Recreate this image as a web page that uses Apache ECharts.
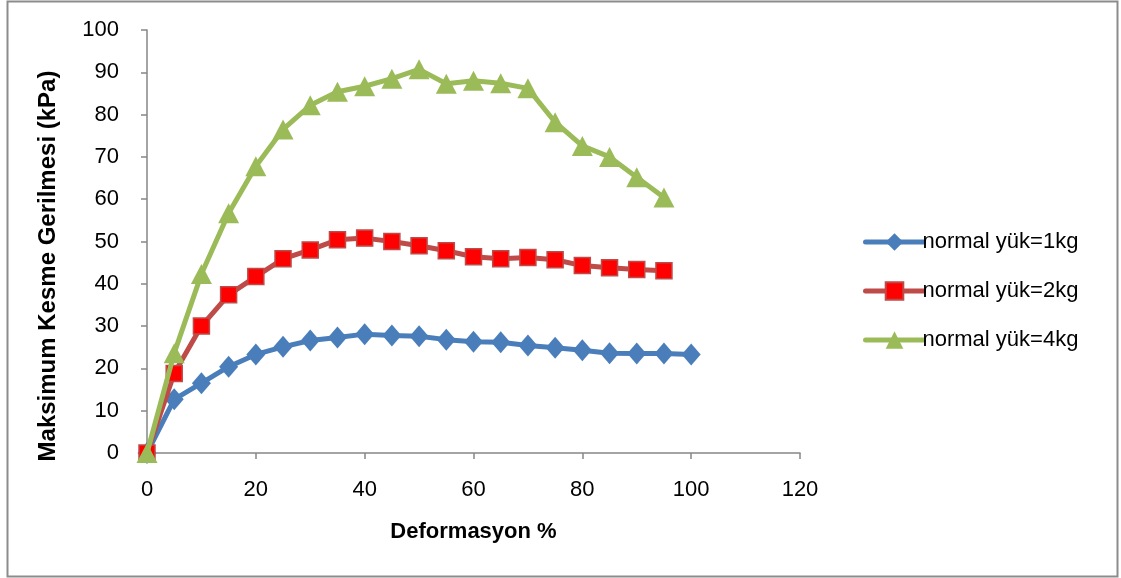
<!DOCTYPE html>
<html>
<head>
<meta charset="utf-8">
<script src="https://cdn.jsdelivr.net/npm/echarts@6/dist/echarts.min.js"></script>
<style>
html,body{margin:0;padding:0;background:#fff;}
#c{width:1121px;height:578px;}
</style>
</head>
<body>
<div id="c"></div>
<script>
const xValues = [0,5,10,15,20,25,30,35,40,45,50,55,60,65,70,75,80,85,90,95,100];
const load1kg = [0,12.7,16.5,20.4,23.3,25.1,26.6,27.3,28.1,27.8,27.6,26.8,26.3,26.2,25.4,24.9,24.3,23.6,23.5,23.5,23.3];
const load2kg = [0,18.8,30.0,37.4,41.7,45.9,48.0,50.4,50.8,50.0,49.0,47.8,46.4,45.9,46.2,45.7,44.3,43.8,43.4,43.1];
const load4kg = [0,23.6,42.3,56.7,67.8,76.5,82.2,85.4,86.7,88.5,90.7,87.3,88.0,87.4,86.2,78.2,72.6,70.0,65.2,60.4];
const seriesNames = ['normal yük=1kg','normal yük=2kg','normal yük=4kg'];
const xTitle = 'Deformasyon %';
const yTitle = 'Maksimum Kesme Gerilmesi (kPa)';

const pairs = arr => arr.map((v,i)=>[xValues[i], v]);
const FONT = '"Liberation Sans", Arial, sans-serif';

const chart = echarts.init(document.getElementById('c'), null, {renderer:'canvas'});
chart.setOption({
  animation:false,
  backgroundColor:'#fff',
  grid:{left:147, right:321, top:30, bottom:125, containLabel:false},
  xAxis:{
    type:'value', min:0, max:120, interval:20,
    axisLine:{show:true, lineStyle:{color:'#868686', width:1.5}},
    axisTick:{show:true, inside:false, length:6, lineStyle:{color:'#868686', width:1.5}},
    axisLabel:{color:'#000', fontSize:22, fontFamily:FONT, margin:26},
    splitLine:{show:false},
    name:xTitle, nameLocation:'middle', nameGap:68,
    nameTextStyle:{color:'#000', fontSize:22, fontWeight:'bold', fontFamily:FONT}
  },
  yAxis:{
    type:'value', min:0, max:100, interval:10,
    axisLine:{show:true, lineStyle:{color:'#868686', width:1.5}},
    axisTick:{show:true, inside:false, length:6, lineStyle:{color:'#868686', width:1.5}},
    axisLabel:{color:'#000', fontSize:22, fontFamily:FONT, margin:28},
    splitLine:{show:false}
  },
  legend:{
    orient:'vertical', left:858, top:226, itemGap:27,
    itemWidth:58, itemHeight:22,
    lineStyle:{width:5, cap:'round'},
    textStyle:{color:'#000', fontSize:22, fontFamily:FONT, padding:[0,0,0,-6]},
    data:seriesNames
  },
  graphic:[
    {type:'rect', shape:{x:7.5, y:1.5, width:1110, height:575}, style:{fill:'none', stroke:'#8c8c8c', lineWidth:2}, silent:true},
    {type:'text', x:48, y:266, rotation:Math.PI/2,
     style:{text:yTitle, fill:'#000', font:'bold 24px "Liberation Sans", Arial, sans-serif', textAlign:'center', textVerticalAlign:'middle'}}
  ],
  series:[
    {name:seriesNames[0], type:'line', data:pairs(load1kg), symbol:'diamond', symbolSize:[19,22], showAllSymbol:true,
     lineStyle:{color:'#4a7ebb', width:5}, itemStyle:{color:'#4a7ebb'}, z:2},
    {name:seriesNames[1], type:'line', data:pairs(load2kg), symbol:'rect', symbolSize:16, showAllSymbol:true,
     lineStyle:{color:'#be4b48', width:5}, itemStyle:{color:'#ff0000', borderColor:'#be4b48', borderWidth:1.5}, z:3},
    {name:seriesNames[2], type:'line', data:pairs(load4kg), symbol:'triangle', symbolSize:[21,20], showAllSymbol:true,
     lineStyle:{color:'#9bbb59', width:5}, itemStyle:{color:'#9bbb59'}, z:4}
  ]
});
</script>
</body>
</html>
